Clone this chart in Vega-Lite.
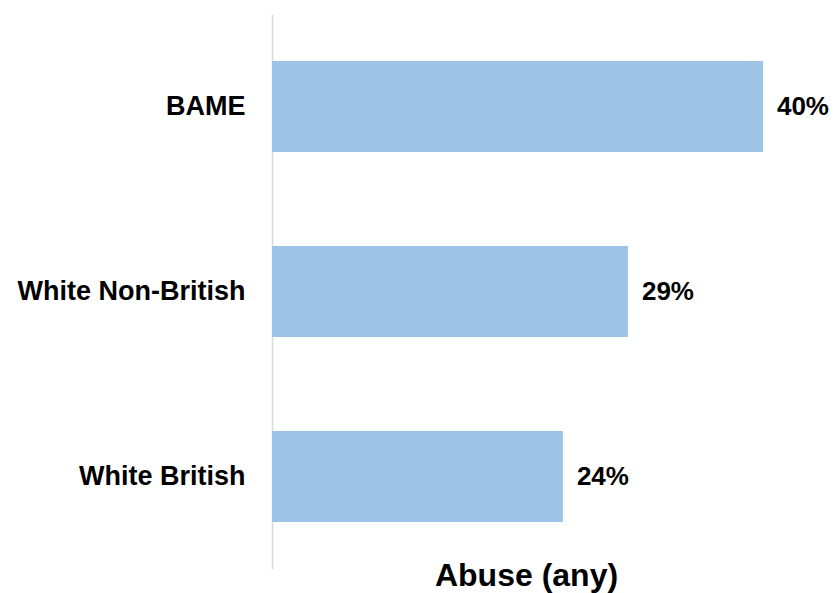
{
  "$schema": "https://vega.github.io/schema/vega-lite/v6.json",
  "width": 508,
  "height": 555,
  "autosize": {"type": "none"},
  "padding": {"left": 272, "top": 14, "right": 54, "bottom": 24},
  "background": "white",
  "config": {"view": {"stroke": null}, "font": "Liberation Sans"},
  "data": {"values": [
    {"group": "BAME", "value": 0.40},
    {"group": "White Non-British", "value": 0.29},
    {"group": "White British", "value": 0.237}
  ]},
  "encoding": {
    "y": {"field": "group", "type": "nominal", "sort": null,
      "scale": {"paddingInner": 0.508, "paddingOuter": 0.254},
      "axis": {"title": null, "ticks": false, "domainColor": "#d9d9d9", "domainWidth": 1.5,
        "labelFontSize": 27, "labelFontWeight": "bold", "labelColor": "#000000", "labelPadding": 27, "labelLimit": 300}},
    "x": {"field": "value", "type": "quantitative",
      "scale": {"domain": [0, 0.4139], "nice": false},
      "axis": {"title": "Abuse (any)", "labels": false, "ticks": false, "domain": false, "grid": false,
        "titleFontSize": 32, "titleFontWeight": "bold", "titleColor": "#000000", "titlePadding": -9}}
  },
  "layer": [
    {"mark": {"type": "bar", "color": "#9dc3e6"}},
    {"mark": {"type": "text", "align": "left", "dx": 14, "fontSize": 26, "fontWeight": "bold", "color": "#000000"},
      "encoding": {"text": {"field": "value", "type": "quantitative", "format": ".0%"}}}
  ]
}
